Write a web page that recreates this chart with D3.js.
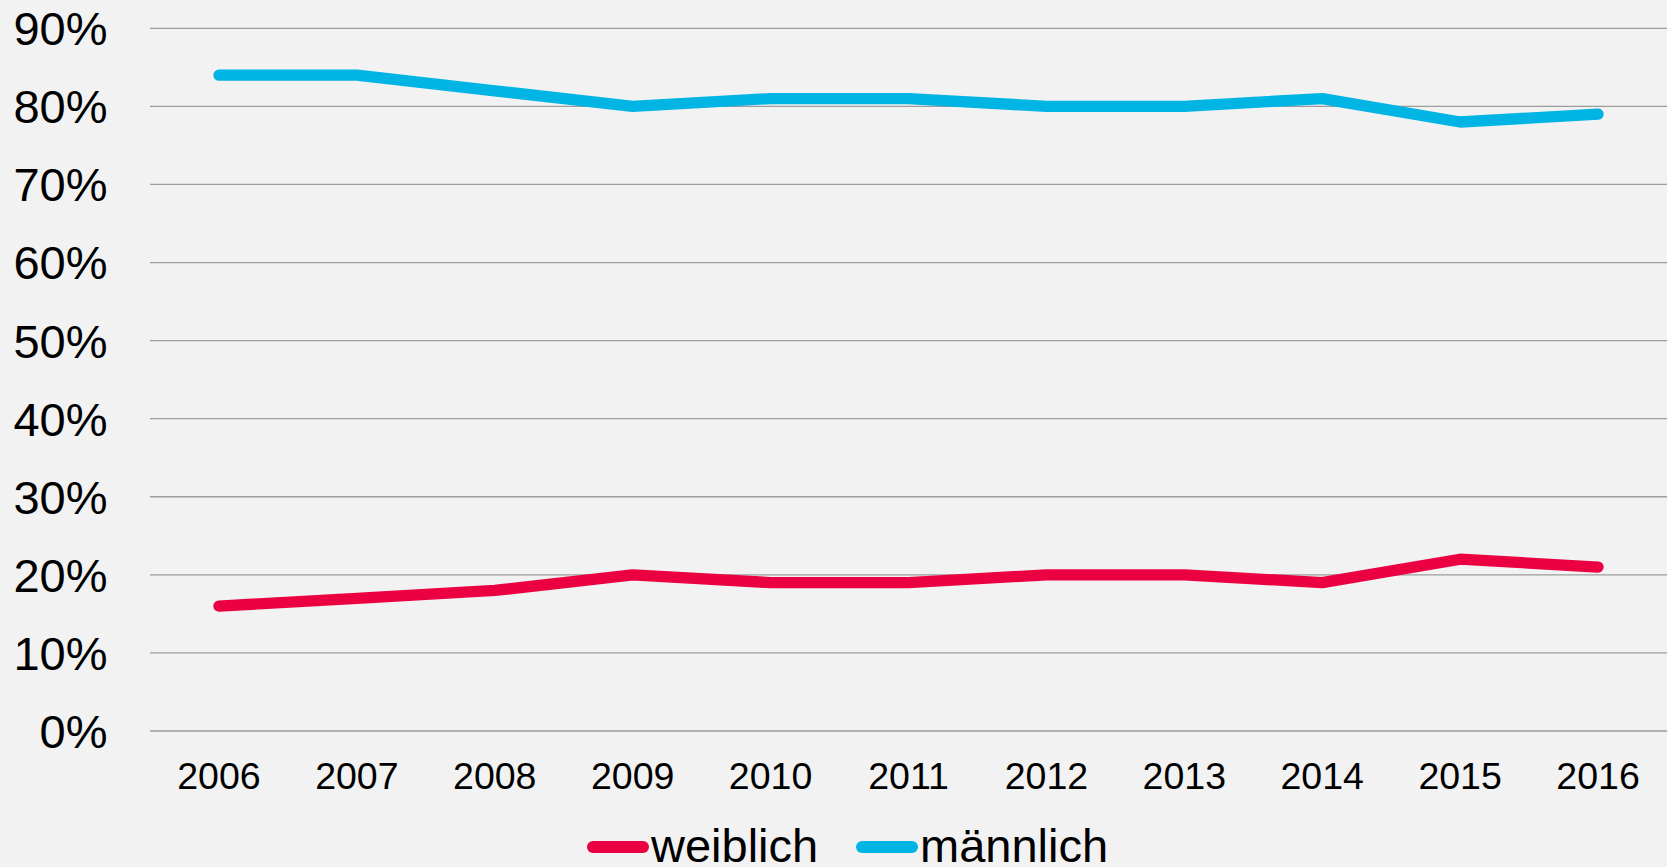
<!DOCTYPE html>
<html>
<head>
<meta charset="utf-8">
<script src="https://cdn.jsdelivr.net/npm/d3@7"></script>
<style>
  html, body { margin: 0; padding: 0; background: #f2f2f2; }
  svg { display: block; }
  text { font-family: "Liberation Sans", Arial, Helvetica, sans-serif; fill: #000; }
</style>
</head>
<body>
<svg id="chart" width="1667" height="867"></svg>
<script>
const years = ["2006","2007","2008","2009","2010","2011","2012","2013","2014","2015","2016"];
const weiblich = [16, 17, 18, 20, 19, 19, 20, 20, 19, 22, 21];
const maennlich = [84, 84, 82, 80, 81, 81, 80, 80, 81, 78, 79];
const yTicks = [0, 10, 20, 30, 40, 50, 60, 70, 80, 90];
const seriesNames = ["weiblich", "männlich"];
const seriesColors = ["#eb0042", "#00b4e4"];

const svg = d3.select("#chart");
const W = 1667, H = 867;

const x = d3.scaleBand().domain(years).range([150, 1667]);
const y = d3.scaleLinear().domain([0, 90]).range([731, 28.3]);

// gridlines
svg.append("g").selectAll("line").data(yTicks).join("line")
  .attr("x1", 150).attr("x2", W)
  .attr("y1", d => y(d)).attr("y2", d => y(d))
  .attr("stroke", "#9c9c9c").attr("stroke-width", 1.3);

// y labels
svg.append("g").selectAll("text").data(yTicks).join("text")
  .attr("x", 107.5).attr("y", d => y(d))
  .attr("text-anchor", "end").attr("dy", "0.36em")
  .attr("font-size", 47)
  .text(d => d + "%");

// x labels
svg.append("g").selectAll("text").data(years).join("text")
  .attr("x", d => x(d) + x.bandwidth() / 2).attr("y", 789)
  .attr("text-anchor", "middle")
  .attr("font-size", 37.5)
  .text(d => d);

const line = d3.line()
  .x((d, i) => x(years[i]) + x.bandwidth() / 2)
  .y(d => y(d));

[weiblich, maennlich].forEach((vals, k) => {
  svg.append("path").datum(vals)
    .attr("d", line)
    .attr("fill", "none")
    .attr("stroke", seriesColors[k])
    .attr("stroke-width", 11.3)
    .attr("stroke-linecap", "round")
    .attr("stroke-linejoin", "round");
});

// legend
const legendX = [593, 862];
seriesNames.forEach((name, k) => {
  const g = svg.append("g");
  g.append("line")
    .attr("x1", legendX[k]).attr("x2", legendX[k] + 50)
    .attr("y1", 847).attr("y2", 847)
    .attr("stroke", seriesColors[k]).attr("stroke-width", 12)
    .attr("stroke-linecap", "round");
  g.append("text")
    .attr("x", legendX[k] + 58).attr("y", 862)
    .attr("font-size", 47)
    .text(name);
});
</script>
</body>
</html>
